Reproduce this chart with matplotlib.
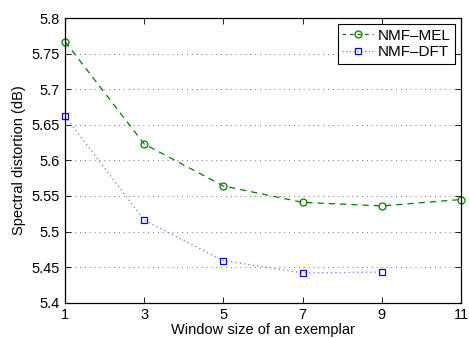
import numpy as np
import matplotlib
matplotlib.use("Agg")
import matplotlib.pyplot as plt

plt.rcParams['font.family'] = ['Liberation Sans', 'DejaVu Sans']

x_mel = [1, 3, 5, 7, 9, 11]
y_mel = [5.767, 5.623, 5.564, 5.541, 5.536, 5.545]
x_dft = [1, 3, 5, 7, 9]
y_dft = [5.662, 5.516, 5.459, 5.442, 5.443]
xticks = [1, 3, 5, 7, 9, 11]
yticks = [5.4, 5.45, 5.5, 5.55, 5.6, 5.65, 5.7, 5.75, 5.8]
yticklabels = ['5.4', '5.45', '5.5', '5.55', '5.6', '5.65', '5.7', '5.75', '5.8']

green = (0.0, 0.5, 0.0)
blue = (0.0, 0.0, 1.0)
lightblue = (0.45, 0.45, 1.0)

fig = plt.figure(figsize=(4.69, 3.38), dpi=100)
ax = fig.add_axes([0.1386, 0.1044, 0.8444, 0.8423])

l1, = ax.plot(x_mel, y_mel, color=green, linestyle=(0, (5, 4)), linewidth=0.9)
l2, = ax.plot(x_dft, y_dft, color=lightblue, linestyle=(0, (1, 2.5)), linewidth=0.9)
ax.plot(x_mel, y_mel, linestyle='none', marker='o', markersize=5,
        markerfacecolor='none', markeredgecolor=green, markeredgewidth=0.9, clip_on=False)
ax.plot(x_dft, y_dft, linestyle='none', marker='s', markersize=4.5,
        markerfacecolor='none', markeredgecolor=blue, markeredgewidth=0.9, clip_on=False)

ax.set_xlim(1, 11)
ax.set_ylim(5.4, 5.8)
ax.set_xticks(xticks)
ax.set_yticks(yticks)
ax.set_yticklabels(yticklabels)
ax.tick_params(direction='in', top=True, right=True, labelsize=10.5, length=4, width=0.6)
ax.yaxis.grid(True, linestyle=(0, (1, 4)), color=(0.45, 0.45, 0.45), linewidth=0.7)
for s in ax.spines.values():
    s.set_linewidth(0.9)

ax.set_xlabel('Window size of an exemplar', fontsize=10.5, labelpad=1)
ax.set_ylabel('Spectral distortion (dB)', fontsize=10.5, labelpad=4)

from matplotlib.lines import Line2D
handles = [
    Line2D([], [], color=green, linestyle=(0, (3, 3)), linewidth=0.9, marker='o',
           markersize=5, markerfacecolor='none', markeredgewidth=0.9),
    Line2D([], [], color=lightblue, linestyle=(0, (1, 2)), linewidth=0.9, marker='s',
           markersize=4.5, markerfacecolor='none', markeredgecolor=blue, markeredgewidth=0.9),
]
leg = ax.legend(handles, ['NMF\u2013MEL', 'NMF\u2013DFT'], loc='upper right',
                fontsize=11, fancybox=False, framealpha=1, edgecolor='black',
                borderpad=0.3, handlelength=2.0, handletextpad=0.3, labelspacing=0.15,
                borderaxespad=0.4)
leg.get_frame().set_linewidth(0.8)

fig.savefig('out.png', dpi=100)
